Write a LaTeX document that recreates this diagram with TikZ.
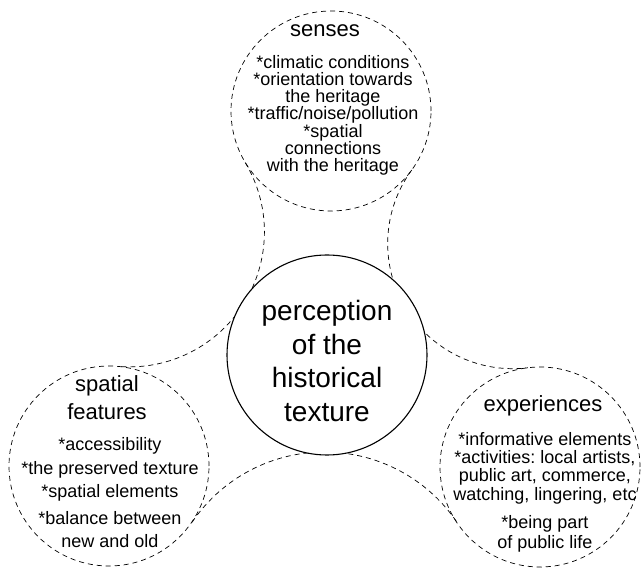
\documentclass[tikz,border=0pt]{standalone}
\usepackage{fontspec}
\setmainfont{Liberation Sans}
\frenchspacing
\begin{document}
\begin{tikzpicture}[x=1pt,y=1pt,
    bubble/.style={circle,draw,dash pattern=on 5pt off 4pt,line width=0.7pt,minimum size=200pt,inner sep=0pt},
    fillet/.style={dash pattern=on 5pt off 4pt,line width=0.7pt},
    head/.style={font=\fontsize{22}{28}\selectfont,align=center,anchor=north,inner sep=0pt},
    body/.style={font=\fontsize{18}{17.2}\selectfont,align=center,anchor=north,inner sep=0pt}]
        \useasboundingbox (0,0) rectangle (641,571);

        % centres of the concave links
        \coordinate (linkL) at (129.4,339.1);
        \coordinate (linkR) at (512.7,327.3);
        \coordinate (linkB) at (324.5,-41);

        \draw[fillet] (linkL) ++(30.95:135pt) arc[start angle=30.95, end angle=-94.98, radius=135pt];
        \draw[fillet] (linkR) ++(143.86:125pt) arc[start angle=143.86, end angle=276.97, radius=125pt];
        \draw[fillet] (linkB) ++(145.9:160pt) arc[start angle=145.9, end angle=34.1, radius=160pt];

        \node (core) at (327,216) [circle,draw,fill=white,line width=1.1pt,minimum size=200pt,inner sep=0pt] {};
        \node (senses) at (331,460) [bubble] {};
        \node (spatial) at (109,105) [bubble] {};
        \node (exper) at (540,104) [bubble] {};

        \node (coreTxt) at (327,270.6) [body,font=\fontsize{28}{33.5}\selectfont]
          {perception\\of the\\historical\\texture};

        \node (sensesHead) at (325,546.9) [head] {senses};
        \node (sensesTxt) at (333,516) [body]
          {*climatic conditions\\*orientation towards\\the heritage\\*traffic/noise/pollution\\*spatial\\connections\\with the heritage};

        \node (spatialHead) at (107,195.8) [head] {spatial\\features};
        \node (spatialTxt) at (110,133.3) [body,font=\fontsize{18}{23.3}\selectfont]
          {*accessibility\\*the preserved texture\\*spatial elements\\[3.4pt]*balance between\\new and old};

        \node (experHead) at (543,175.8) [head] {experiences};
        \node (experTxt) at (545,139) [body,font=\fontsize{18}{18.3}\selectfont]
          {*informative elements\\*activities: local artists,\\public art, commerce,\\watching, lingering, etc\\[10pt]*being part\\[1.7pt]of public life};
\end{tikzpicture}
\end{document}
